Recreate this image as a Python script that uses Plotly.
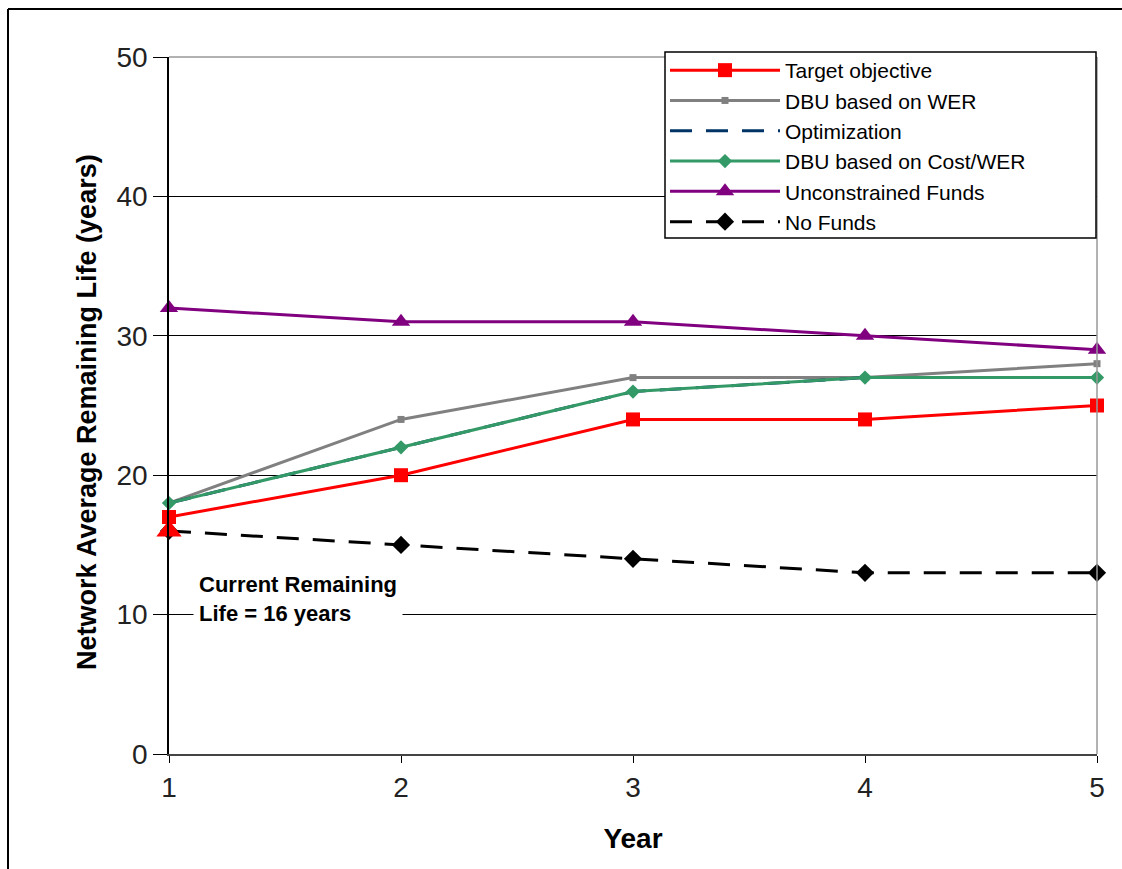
import plotly.graph_objects as go

years = [1, 2, 3, 4, 5]
target_objective = [17, 20, 24, 24, 25]
dbu_wer = [18, 24, 27, 27, 28]
optimization = [18, 22, 26, 27, 27]
dbu_cost_wer = [18, 22, 26, 27, 27]
unconstrained = [32, 31, 31, 30, 29]
no_funds = [16, 15, 14, 13, 13]
current_life_year = [1]
current_life = [16]

W, H = 1122, 869
L, R, T, B = 169, 1097, 57, 754  # plot area in pixels


def px_x(px):
    return (px - L) / (R - L)


def px_y(py):
    return (B - py) / (B - T)


fig = go.Figure()

series = [
    ("Target objective", target_objective, "#FF0000", "solid", 3, "square", 14),
    ("DBU based on WER", dbu_wer, "#808080", "solid", 3, "square", 7),
    ("Optimization", optimization, "#003366", "dash", 3, None, 0),
    ("DBU based on Cost/WER", dbu_cost_wer, "#339966", "solid", 3, "diamond", 11),
    ("Unconstrained Funds", unconstrained, "#800080", "solid", 3, "triangle-up", 16),
    ("No Funds", no_funds, "#000000", "dash", 3, "diamond", 14),
]

for name, vals, color, dash, width, sym, size in series:
    fig.add_trace(go.Scatter(
        x=years, y=vals, name=name,
        mode="lines+markers" if sym else "lines",
        line=dict(color=color, width=width, dash="22px,14px" if dash == "dash" else dash),
        marker=dict(symbol=sym or "circle", size=size, color=color, line=dict(width=0)),
        cliponaxis=False,
    ))

# current remaining life marker
fig.add_trace(go.Scatter(
    x=current_life_year, y=current_life, mode="markers",
    marker=dict(symbol="triangle-up", size=22, color="#FF0000", line=dict(width=0)),
    showlegend=False, cliponaxis=False,
))

fig.update_layout(
    width=W, height=H,
    margin=dict(l=L, r=W - R, t=T, b=H - B),
    paper_bgcolor="white", plot_bgcolor="white",
    font=dict(family="Liberation Sans, Arial, sans-serif", color="#000000"),
    showlegend=True,
    legend=dict(
        x=px_x(665), y=px_y(50), xanchor="left", yanchor="top",
        bgcolor="rgba(0,0,0,0)", borderwidth=0,
        font=dict(size=21, color="#000000"),
        tracegroupgap=0,
        itemwidth=110,
    ),
    xaxis=dict(
        range=[1, 5], tickvals=years, ticktext=[str(y) for y in years],
        showgrid=False, zeroline=False,
        showline=True, linecolor="#444444", linewidth=2,
        ticks="outside", ticklen=7, tickcolor="#000000",
        tickfont=dict(size=28, color="#222222"),
        title=dict(text="<b>Year</b>", font=dict(size=28, color="#000000"), standoff=27),
    ),
    yaxis=dict(
        range=[0, 50], dtick=10,
        showgrid=True, gridcolor="#000000", gridwidth=1,
        zeroline=False,
        showline=True, linecolor="#000000", linewidth=1.5,
        ticks="outside", ticklen=14, tickcolor="#000000",
        tickfont=dict(size=28, color="#222222"),
    ),
)

# gray top and right plot borders
fig.add_shape(type="line", xref="paper", yref="paper", x0=0, x1=1, y0=1, y1=1,
              line=dict(color="#999999", width=1.5))
fig.add_shape(type="line", xref="paper", yref="paper", x0=1, x1=1, y0=0, y1=1,
              line=dict(color="#999999", width=1.5))

# legend box
fig.add_shape(type="rect", xref="paper", yref="paper", layer="above",
              x0=px_x(665), x1=px_x(1096), y0=px_y(238), y1=px_y(52),
              fillcolor="white", line=dict(color="#000000", width=1.5))

# outer frame
fig.add_shape(type="line", xref="paper", yref="paper",
              x0=px_x(8), x1=px_x(1130), y0=px_y(9), y1=px_y(9),
              line=dict(color="#000000", width=2))
fig.add_shape(type="line", xref="paper", yref="paper",
              x0=px_x(8), x1=px_x(8), y0=px_y(9), y1=px_y(880),
              line=dict(color="#000000", width=2))

fig.add_annotation(
    xref="paper", yref="paper", x=px_x(70), y=px_y(412),
    text="<b>Network Average Remaining Life (years)</b>", textangle=-90,
    showarrow=False, font=dict(size=27, color="#000000"),
)

fig.add_annotation(
    xref="paper", yref="y", x=px_x(193), y=10, xanchor="left", yanchor="middle",
    text="<b>Current Remaining<br>Life = 16 years</b>", align="left",
    showarrow=False, bgcolor="white", borderpad=5,
    font=dict(size=22, color="#000000"),
    yshift=16,
)

fig.write_html("out.html")
